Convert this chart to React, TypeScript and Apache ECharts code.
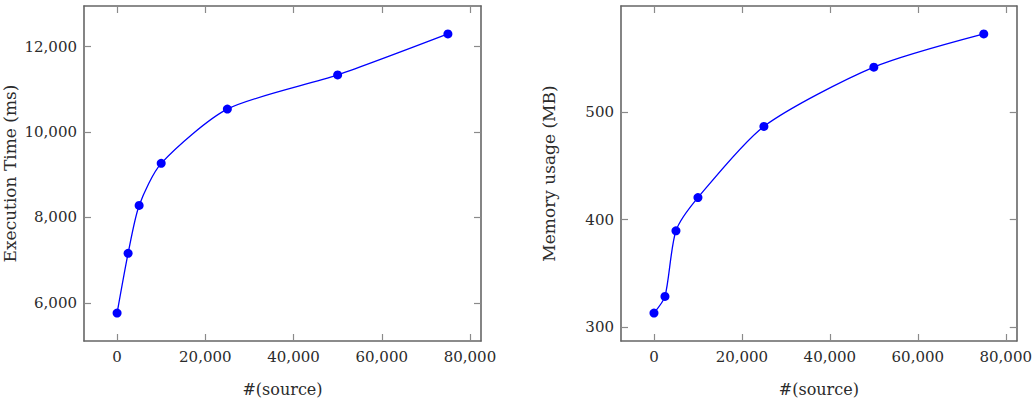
import React, { useEffect, useRef } from "react";
import * as echarts from "echarts";

const sources = [0, 2500, 5000, 10000, 25000, 50000, 75000];
const execTimeMs = [5760, 7160, 8280, 9266, 10536, 11336, 12296];
const memoryMB = [313, 328.5, 389.5, 420.4, 486.6, 541.7, 572.6];

const xTicks = [0, 20000, 40000, 60000, 80000];
const timeTicks = [6000, 8000, 10000, 12000];
const memTicks = [300, 400, 500];

const FONT = "DejaVu Serif";
const TEXT = "#2b2b2b";
const FRAME = "#666666";
const TICK = "#8a8a8a";
const BLUE = "#0000ff";
const FS = 15;

const fmt = (v: number) => Number(v).toLocaleString("en-US");

function xAxes(gridIndex: number, xmin: number, xmax: number) {
  const common = {
    type: "value",
    gridIndex,
    min: xmin,
    max: xmax,
    splitLine: { show: false },
    axisLine: { show: true, onZero: false, lineStyle: { color: FRAME, width: 1.6 } },
    axisTick: { show: true, inside: true, length: 7, customValues: xTicks, lineStyle: { color: TICK, width: 1.2 } },
  };
  return [
    {
      ...common,
      position: "bottom",
      name: "#(source)",
      nameLocation: "middle",
      nameGap: 40,
      nameTextStyle: { fontFamily: FONT, fontSize: 16, color: TEXT },
      axisLabel: { show: true, customValues: xTicks, formatter: fmt, margin: 8, fontFamily: FONT, fontSize: FS, color: TEXT },
    },
    { ...common, position: "top", axisLabel: { show: false } },
  ];
}

function yAxes(gridIndex: number, ymin: number, ymax: number, ticks: number[], name: string, nameGap: number) {
  const common = {
    type: "value",
    gridIndex,
    min: ymin,
    max: ymax,
    splitLine: { show: false },
    axisLine: { show: true, onZero: false, lineStyle: { color: FRAME, width: 1.6 } },
    axisTick: { show: true, inside: true, length: 7, customValues: ticks, lineStyle: { color: TICK, width: 1.2 } },
  };
  return [
    {
      ...common,
      position: "left",
      name,
      nameLocation: "middle",
      nameGap,
      nameRotate: 90,
      nameTextStyle: { fontFamily: FONT, fontSize: 17, color: TEXT },
      axisLabel: { show: true, customValues: ticks, formatter: fmt, margin: 7, fontFamily: FONT, fontSize: FS, color: TEXT },
    },
    { ...common, position: "right", axisLabel: { show: false } },
  ];
}

export default function App() {
  const ref = useRef<HTMLDivElement>(null);
  useEffect(() => {
    if (!ref.current) return;
    const chart = echarts.init(ref.current, undefined, { renderer: "svg" });
    const xRange = sources[sources.length - 1] - sources[0];
    const xmin = sources[0] - 0.1 * xRange;
    const xmax = sources[sources.length - 1] + 0.1 * xRange;
    const tMin = Math.min(...execTimeMs), tMax = Math.max(...execTimeMs);
    const mMin = Math.min(...memoryMB), mMax = Math.max(...memoryMB);
    const tR = tMax - tMin, mR = mMax - mMin;

    const seriesCommon = {
      type: "line",
      smooth: 0.25,
      symbol: "circle",
      symbolSize: 9,
      lineStyle: { color: BLUE, width: 1.3 },
      itemStyle: { color: BLUE },
    };

    chart.setOption({
      animation: false,
      backgroundColor: "#ffffff",
      grid: [
        { left: 83, top: 6, width: 398, height: 337 },
        { left: 621, top: 6, width: 398, height: 337 },
      ],
      xAxis: [...xAxes(0, xmin, xmax), ...xAxes(1, xmin, xmax)],
      yAxis: [
        ...yAxes(0, tMin - 0.1 * tR, tMax + 0.1 * tR, timeTicks, "Execution Time (ms)", 66),
        ...yAxes(1, mMin - 0.1 * mR, mMax + 0.1 * mR, memTicks, "Memory usage (MB)", 64),
      ],
      series: [
        { ...seriesCommon, xAxisIndex: 0, yAxisIndex: 0, data: sources.map((s, i) => [s, execTimeMs[i]]) },
        { ...seriesCommon, xAxisIndex: 2, yAxisIndex: 2, data: sources.map((s, i) => [s, memoryMB[i]]) },
      ],
    });
    return () => chart.dispose();
  }, []);
  return (
    <div
      ref={ref}
      style={{ position: "absolute", left: 0, top: 0, width: 1035, height: 402, background: "#fff" }}
    />
  );
}
